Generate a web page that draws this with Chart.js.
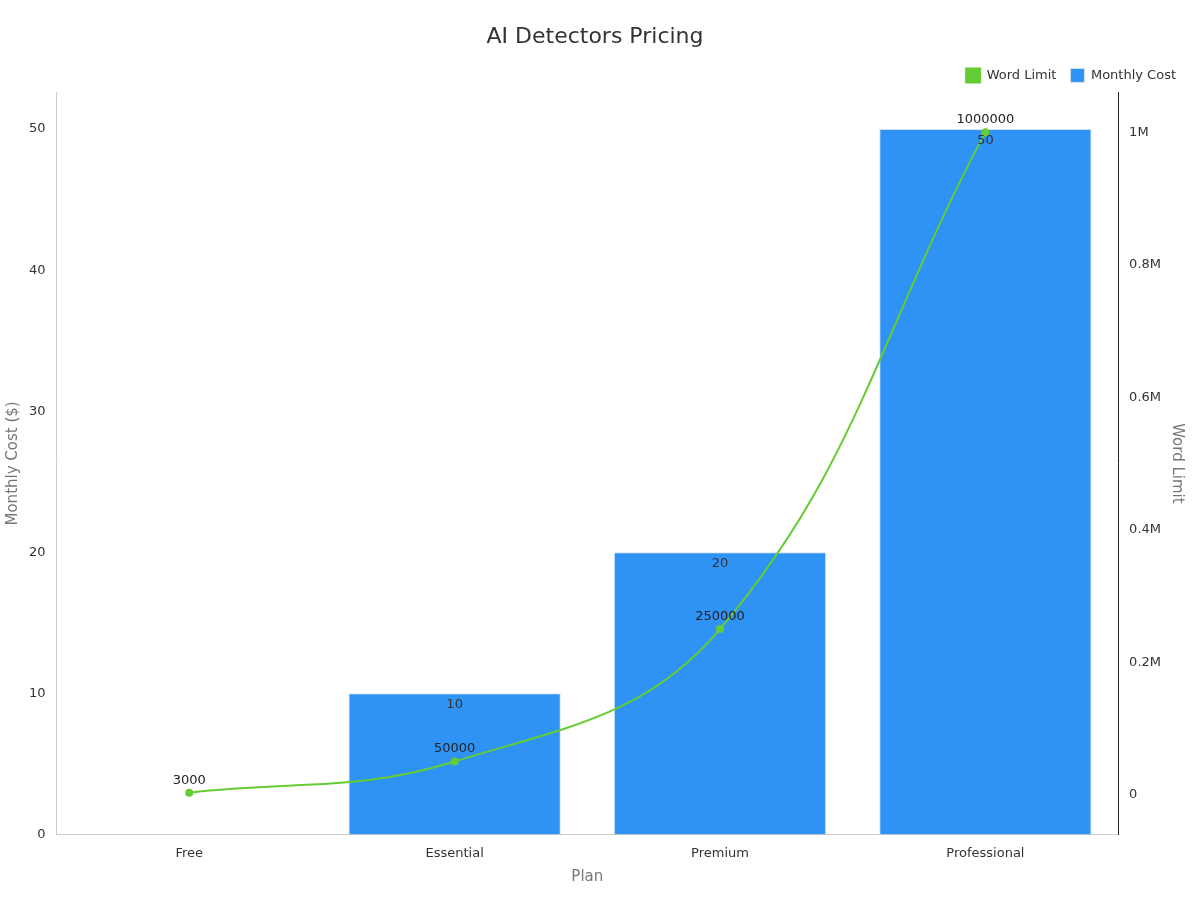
<!DOCTYPE html>
<html>
<head>
<meta charset="utf-8">
<script src="https://cdn.jsdelivr.net/npm/chart.js@4"></script>
<style>
  body { margin: 0; background: #fff; }
  #wrap { width: 1200px; height: 900px; }
</style>
</head>
<body>
<div id="wrap"><canvas id="chart"></canvas></div>
<script>
const plans = ['Free', 'Essential', 'Premium', 'Professional'];
const monthlyCost = [0, 10, 20, 50];
const wordLimit = [3000, 50000, 250000, 1000000];

Chart.defaults.font.family = 'DejaVu Sans';
Chart.defaults.color = '#333';

// value labels: inside bar tops, above line points
const valueLabels = {
    id: 'valueLabels',
    afterDatasetsDraw(chart) {
        const ctx = chart.ctx;
        ctx.save();
        ctx.font = '13px DejaVu Sans';
        ctx.textAlign = 'center';
        chart.getDatasetMeta(0).data.forEach((bar, i) => {
            if (!monthlyCost[i]) return;
            ctx.fillStyle = '#333';
            ctx.textBaseline = 'top';
            ctx.fillText(monthlyCost[i], bar.x, bar.y + 5);
        });
        chart.getDatasetMeta(1).data.forEach((pt, i) => {
            ctx.fillStyle = '#222';
            ctx.textBaseline = 'bottom';
            ctx.fillText(wordLimit[i], pt.x, pt.y - 6);
        });
        ctx.restore();
    }
};

new Chart(document.getElementById('chart').getContext('2d'), {
    data: {
        labels: plans,
        datasets: [{
            type: 'bar',
            label: 'Monthly Cost',
            data: monthlyCost,
            backgroundColor: '#2e93f5',
            borderColor: '#d0e4f8',
            borderWidth: 1,
            barPercentage: 0.8,
            categoryPercentage: 1.0,
            yAxisID: 'y',
            order: 2
        }, {
            type: 'line',
            label: 'Word Limit',
            data: wordLimit,
            borderColor: '#66cc33',
            backgroundColor: '#66cc33',
            borderWidth: 2,
            pointRadius: 3,
            tension: 0.4,
            yAxisID: 'y1',
            order: 1
        }]
    },
    options: {
        responsive: true,
        maintainAspectRatio: false,
        animation: false,
        layout: { padding: { left: 0, right: 10, top: 10, bottom: 10 } },
        plugins: {
            title: {
                display: true,
                text: 'AI Detectors Pricing',
                font: { size: 22, weight: 'normal' },
                color: '#333',
                padding: { top: 14, bottom: 4 }
            },
            legend: {
                align: 'end',
                labels: { boxWidth: 14, boxHeight: 14, font: { size: 13 }, padding: 14 }
            },
            tooltip: { enabled: false }
        },
        scales: {
            x: {
                grid: { display: false },
                border: { color: '#ccc' },
                ticks: { font: { size: 13 } },
                title: { display: true, text: 'Plan', color: '#777', font: { size: 15 } }
            },
            y: {
                position: 'left',
                min: 0,
                max: 52.6,
                grid: { display: false },
                border: { color: '#ccc' },
                ticks: { stepSize: 10, font: { size: 13 }, callback: v => v % 10 === 0 ? v : '' },
                title: { display: true, text: 'Monthly Cost ($)', color: '#777', font: { size: 15 } }
            },
            y1: {
                position: 'right',
                min: -60000,
                max: 1060000,
                grid: { display: false },
                border: { color: '#222' },
                afterBuildTicks: axis => {
                    axis.ticks = [0, 200000, 400000, 600000, 800000, 1000000].map(v => ({ value: v }));
                },
                ticks: {
                    font: { size: 13 },
                    callback: v => v === 0 ? '0' : (v / 1e6) + 'M'
                },
                title: { display: true, text: 'Word Limit', color: '#777', font: { size: 15 } }
            }
        }
    },
    plugins: [valueLabels]
});
</script>
</body>
</html>
